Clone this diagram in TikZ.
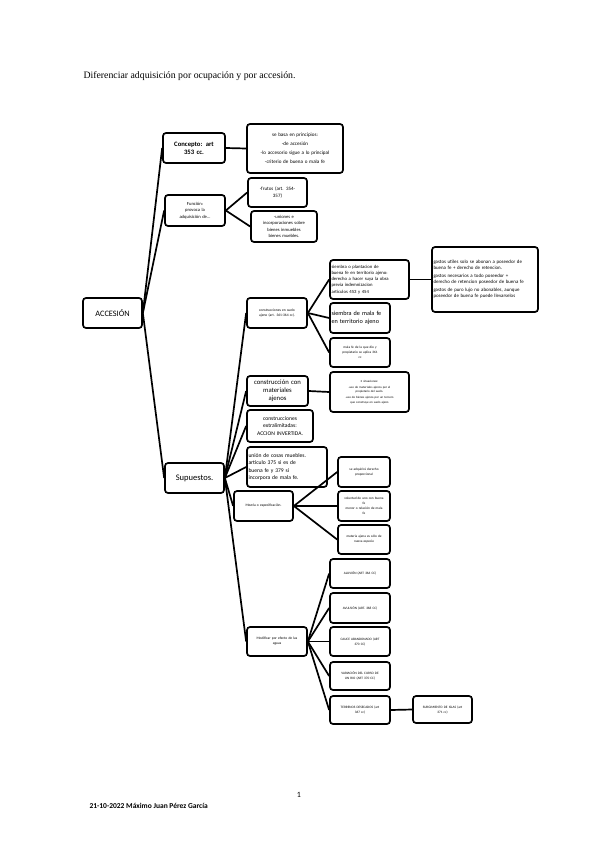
\documentclass[tikz,border=0pt]{standalone}
\usepackage{fontspec}
\setmainfont{Carlito}
\newfontfamily\titlefont{Liberation Serif}
\newcommand{\fs}[2]{\fontsize{#1}{#2}\selectfont}
\tikzset{
  box/.style={draw, line width=1.7pt, rounded corners=3pt, inner sep=0.5pt, fill=white},
  conn/.style={line width=1.7pt},
}
\newcommand{\mybox}[8]{%
  \pgfmathsetmacro\bw{#4-#2}%
  \pgfmathsetmacro\bh{#5-#3}%
  \pgfmathsetmacro\bcx{(#2+#4)/2}%
  \pgfmathsetmacro\bcy{-(#3+#5)/2}%
  \pgfmathsetmacro\btw{#4-#2-3}%
  \node[box, minimum width=\bw pt, minimum height=\bh pt, text width=\btw pt, align=#6, font=#7] (#1) at (\bcx pt,\bcy pt) {#8};%
}
\begin{document}
\begin{tikzpicture}[x=1pt,y=1pt]
\useasboundingbox (0,0) rectangle (599,-848);
\fill[white] (0,0) rectangle (599,-848);

\node[anchor=west, font=\titlefont\fs{9.8}{11}] (title) at (80,-76) {Diferenciar adquisición por ocupación y por accesión.};

% level 1
\mybox{acc}{83}{298}{142}{328}{center}{\fs{8.3}{9}}{ACCESIÓN}

% level 2
\mybox{conc}{163}{133}{225}{163}{center}{\bfseries\fs{6.7}{8}}{Concepto: art\\353 cc.}
\mybox{func}{165}{195}{225}{226}{center}{\fs{4.6}{6.5}}{Función:\\provoca la\\adquisición de...}
\mybox{sup}{165}{463}{224}{493}{center}{\fs{8.5}{9}}{Supuestos.}

% concepto / funcion children
\mybox{basa}{247}{124}{343}{173}{center}{\fs{5.1}{9}}{se basa en principios:\\-de accesión\\-lo accesorio sigue a lo principal\\-criterio de buena o mala fe}
\mybox{frut}{248}{178}{307}{207}{center}{\fs{5}{7}}{-frutos (art. 354-\\357)}
\mybox{unio}{251}{211}{317}{242}{center}{\fs{4.6}{6.3}}{-uniones e\\incorporaciones sobre\\bienes inmuebles\\bienes muebles.}

% supuestos children
\mybox{suelo}{247}{298}{307}{328}{center}{\fs{3.6}{5}}{construcciones en suelo\\ajeno (art. 361-364 cc).}
\mybox{mat}{247}{376}{308}{406}{center}{\fs{6.7}{8}}{construcción con\\materiales\\ajenos}
\mybox{extra}{247}{410}{313}{442}{center}{\fs{5.6}{7.5}}{construcciones\\extralimitadas:\\ACCION INVERTIDA.}
\mybox{union}{247}{447}{327}{487}{left}{\fs{5.6}{7.5}}{unión de cosas muebles.\\artículo 375 si es de\\buena fe y 379 si\\incorpora de mala fe.}
\mybox{mez}{234}{491}{293}{521}{center}{\fs{3.6}{5}}{Mezcla o especificación.}
\mybox{mod}{247}{627}{307}{656}{center}{\fs{3.6}{5}}{Modificar por efecto de las\\aguas}

% suelo ajeno children
\mybox{sbf}{330}{260}{409}{299}{left}{\fs{4.7}{6.2}}{siembra o plantacion de\\buena fe en territorio ajeno:\\derecho a hacer suya la obra\\previa indemnizacion\\articulos 453 y 454}
\mybox{smf}{330}{303}{390}{333}{left}{\fs{6.2}{7.5}}{siembra de mala fe\\en territorio ajeno}
\mybox{mfq}{330}{338}{390}{367}{center}{\fs{3.4}{5}}{mala fe de la que dio y\\propietario se aplica 361\\cc}
\mybox{gast}{432}{247}{538}{312}{left}{\fs{4.9}{6}}{gastos utiles solo se abonan a poseedor de\\buena fe + derecho de retencion.\\[2pt]gastos necesarios a todo poseedor +\\derecho de retencion poseedor de buena fe\\[2pt]gastos de puro lujo no abonables, aunque\\poseedor de buena fe puede llevarselos}

% materiales ajenos child
\mybox{sit}{330}{372}{409}{412}{center}{\fs{3.1}{4.6}}{2 situaciones:\\[1pt]-uso de materiales ajenos por el\\propietario del suelo.\\[1pt]-uso de bienes ajenos por un tercero\\que construye en suelo ajeno}

% mezcla children
\mybox{adq}{338}{457}{390}{487}{center}{\fs{3.4}{5}}{se adquirirá derecho\\proporcional}
\mybox{vol}{338}{491}{390}{521}{center}{\fs{3.4}{4.6}}{voluntad de uno con buena\\fe\\[1pt]menor o relación de mala\\fe}
\mybox{matj}{338}{525}{390}{554}{center}{\fs{3.4}{5}}{materia ajena es sólo de\\nueva especie}

% aguas children
\mybox{aluv}{330}{559}{390}{588}{center}{\fs{3.4}{5}}{ALUVIÓN (ART 366 CC)}
\mybox{avul}{330}{593}{390}{623}{center}{\fs{3.4}{5}}{AVULSIÓN (ART. 368 CC)}
\mybox{cauce}{330}{627}{390}{656}{center}{\fs{3.4}{5}}{CAUCE ABANDONADO (ART\\370 CC)}
\mybox{var}{330}{662}{390}{690}{center}{\fs{3.4}{5}}{VARIACIÓN DEL CURSO DE\\UN RIO (ART 370 CC)}
\mybox{ter}{330}{696}{390}{724}{center}{\fs{3.4}{5}}{TERRENOS DESECADOS (art\\367 cc)}
\mybox{isla}{413}{696}{472}{723}{center}{\fs{3.4}{5}}{SURGIMIENTO DE ISLAS (art\\371 cc)}

% connectors
\draw[conn] (acc.east) -- (conc.west);
\draw[conn] (acc.east) -- (func.west);
\draw[conn] (acc.east) -- (sup.west);
\draw[conn] (conc.east) -- (basa.west);
\draw[conn] (func.east) -- (frut.west);
\draw[conn] (func.east) -- (unio.west);
\foreach \c in {suelo,mat,extra,union,mez,mod} \draw[conn] (sup.east) -- (\c.west);
\foreach \c in {sbf,smf,mfq} \draw[conn] (suelo.east) -- (\c.west);
\draw[conn] (sbf.east) -- (gast.west);
\draw[conn] (mat.east) -- (sit.west);
\foreach \c in {adq,vol,matj} \draw[conn] (mez.east) -- (\c.west);
\foreach \c in {aluv,avul,cauce,var,ter} \draw[conn] (mod.east) -- (\c.west);
\draw[conn] (ter.east) -- (isla.west);

% footer
\node[font=\fs{8}{9}] (pnum) at (299,-795) {1};
\node[anchor=west, font=\bfseries\fs{7.5}{9}] (foot) at (86,-806) {21-10-2022 Máximo Juan Pérez García};
\end{tikzpicture}
\end{document}
